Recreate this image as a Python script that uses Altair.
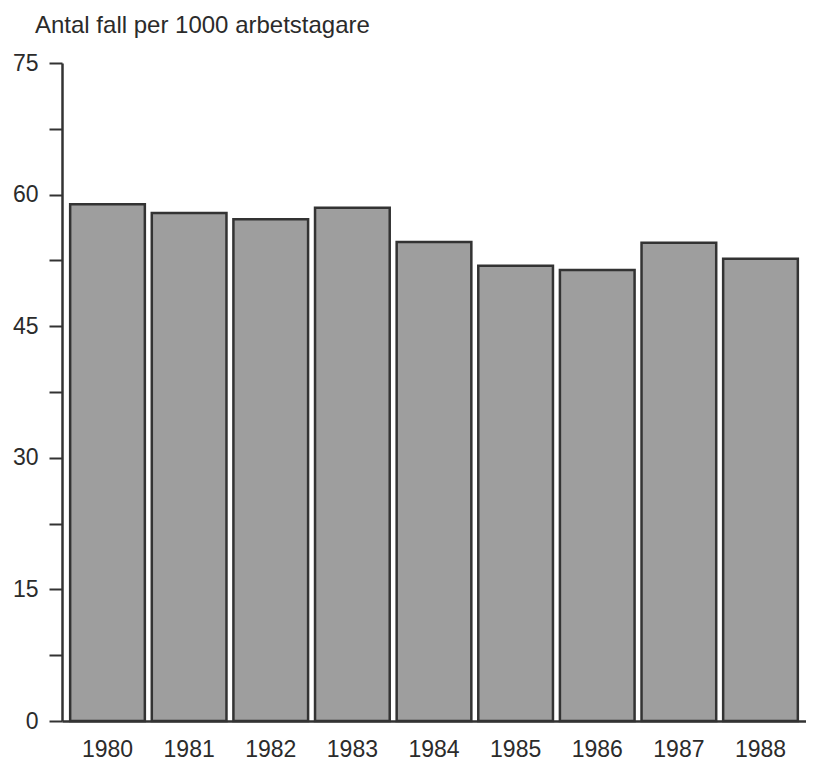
import altair as alt
import pandas as pd

years = ["1980", "1981", "1982", "1983", "1984", "1985", "1986", "1987", "1988"]
values = [58.9, 57.9, 57.2, 58.5, 54.6, 51.9, 51.4, 54.5, 52.7]
y_ticks = [0, 7.5, 15, 22.5, 30, 37.5, 45, 52.5, 60, 67.5, 75]

df = pd.DataFrame({"year": years, "value": values})

FONT = "Liberation Sans"
INK = "#2b2b2b"

chart = alt.Chart(df).mark_bar(
    fill="#9e9e9e", stroke="#333333", strokeWidth=2.5
).encode(
    x=alt.X("year:N", title=None,
            scale=alt.Scale(paddingInner=0.085, paddingOuter=0.1),
            axis=alt.Axis(labelAngle=0, ticks=False, labelPadding=17,
                          labelFontSize=23, labelFont=FONT, labelColor=INK,
                          domainColor="#333333", domainWidth=2.5)),
    y=alt.Y("value:Q", title=None,
            scale=alt.Scale(domain=[0, 75], nice=False),
            axis=alt.Axis(values=y_ticks, grid=False,
                          labelExpr="datum.value % 15 == 0 ? datum.label : ''",
                          tickSize=13, tickColor="#333333", tickWidth=2,
                          labelPadding=11, labelFontSize=23, labelFont=FONT,
                          labelColor=INK, domainColor="#333333", domainWidth=2.5)),
).properties(
    width=744, height=658,
    background="white",
    title=alt.TitleParams("Antal fall per 1000 arbetstagare", anchor="start",
                          frame="group", dx=-27, offset=14, fontSize=24,
                          fontWeight="normal", font=FONT, color=INK),
    autosize=alt.AutoSizeParams(type="none"),
    padding={"left": 54, "top": 55, "right": 0, "bottom": 43},
).configure_view(stroke=None)

chart.save("out.html", embed_options={"renderer": "svg", "actions": False})
